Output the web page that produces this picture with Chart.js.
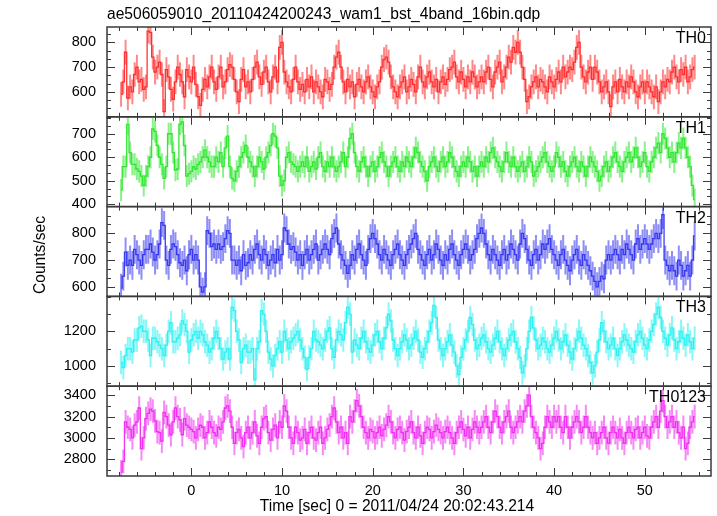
<!DOCTYPE html>
<html>
<head>
<meta charset="utf-8">
<script src="https://cdn.jsdelivr.net/npm/chart.js@4.4.1/dist/chart.umd.min.js"></script>
<style>
  html, body { margin: 0; padding: 0; background: #fff; }
  #wrap { width: 717px; height: 516px; }
</style>
</head>
<body>
<div id="wrap"><canvas id="lc"></canvas></div>
<script>
var fileTitle = "ae506059010_20110424200243_wam1_bst_4band_16bin.qdp";
var xTitle = "Time [sec] 0 = 2011/04/24 20:02:43.214";
var yTitle = "Counts/sec";

var bandNames = ["TH0", "TH1", "TH2", "TH3", "TH0123"];

// 0.25 s bins, first bin centre
var timeStart = -7.75;
var binWidth = 0.25;
var xTicks = [0, 10, 20, 30, 40, 50];

var th0Rate = [
  590, 640, 760, 575, 620, 600, 670, 700, 640, 650, 610, 620, 845, 840, 740, 680,
  700, 720, 670, 520, 690, 660, 610, 570, 640, 700, 670, 640, 580, 690, 660, 640,
  700, 630, 580, 545, 610, 650, 620, 660, 700, 640, 610, 660, 700, 620, 640, 690,
  710, 700, 650, 600, 560, 650, 690, 620, 640, 600, 650, 700, 720, 660, 630, 680,
  700, 640, 600, 660, 700, 640, 780, 800, 680, 640, 620, 600, 650, 700, 640, 610,
  630, 600, 650, 620, 660, 600, 640, 620, 600, 580, 650, 640, 610, 630, 700, 740,
  760, 700, 640, 600, 650, 620, 640, 580, 630, 650, 620, 600, 640, 660, 620, 600,
  580, 620, 640, 700, 730, 740, 720, 660, 620, 600, 580, 620, 640, 660, 600, 620,
  650, 630, 600, 660, 700, 640, 620, 660, 680, 640, 620, 650, 600, 640, 660, 630,
  650, 690, 700, 720, 660, 640, 680, 650, 620, 660, 640, 680, 660, 620, 640, 660,
  640, 680, 700, 650, 620, 680, 700, 720, 640, 660, 700, 740, 720, 780, 760, 800,
  760, 700, 650, 560, 580, 620, 640, 660, 620, 650, 640, 620, 600, 660, 640, 620,
  650, 680, 640, 700, 660, 680, 700, 690, 720, 780, 800, 700, 660, 640, 680, 700,
  650, 700, 680, 640, 600, 620, 640, 600, 540, 620, 640, 600, 650, 620, 600, 640,
  620, 660, 640, 600, 580, 620, 640, 600, 640, 620, 600, 580, 620, 560, 600, 640,
  620, 650, 640, 680, 700, 660, 640, 690, 670, 700, 640, 660, 690, 700
];

var th1Rate = [
  460, 560, 560, 740, 620, 570, 570, 550, 540, 520, 480, 520, 560, 600, 720, 710,
  650, 600, 570, 510, 560, 700, 700, 620, 545, 550, 740, 750, 650, 520, 530, 540,
  560, 550, 570, 580, 600, 630, 600, 580, 560, 560, 600, 580, 620, 560, 640, 690,
  560, 510, 500, 540, 560, 600, 620, 650, 600, 580, 560, 520, 560, 600, 580, 550,
  600, 620, 650, 700, 690, 640, 520, 480, 500, 600, 620, 580, 570, 560, 540, 560,
  580, 560, 600, 540, 560, 580, 550, 600, 620, 560, 540, 580, 560, 600, 560, 540,
  560, 580, 620, 560, 600, 680, 700, 620, 560, 540, 580, 600, 560, 520, 560, 580,
  540, 560, 600, 620, 580, 560, 520, 560, 580, 600, 560, 540, 580, 560, 600, 580,
  560, 600, 640, 620, 580, 560, 540, 500, 560, 580, 600, 560, 540, 580, 600, 560,
  580, 620, 600, 560, 540, 520, 560, 580, 560, 600, 580, 540, 560, 520, 560, 580,
  560, 600, 580, 620, 640, 600, 580, 560, 540, 580, 620, 580, 560, 600, 560, 540,
  560, 580, 540, 560, 600, 580, 520, 540, 560, 580, 600, 620, 580, 560, 540, 560,
  620, 600, 560, 580, 540, 520, 560, 580, 600, 560, 540, 580, 560, 520, 560, 600,
  580, 560, 540, 500, 520, 560, 580, 540, 560, 600, 620, 580, 560, 540, 580, 600,
  620, 580, 600, 640, 600, 560, 580, 620, 560, 540, 580, 600, 640, 660, 620, 700,
  680, 640, 600, 620, 580, 620, 660, 640, 680, 640, 600, 560, 480, 420
];

var th2Rate = [
  595, 640, 730, 680, 700, 680, 740, 720, 700, 680, 720, 740, 740, 760, 730, 700,
  720, 760, 840, 830, 700, 680, 740, 760, 750, 720, 690, 680, 700, 660, 720, 740,
  700, 720, 700, 600, 580, 600, 810, 800, 750, 760, 740, 760, 740, 750, 780, 810,
  800, 700, 700, 680, 700, 660, 720, 680, 690, 720, 700, 740, 760, 720, 700, 740,
  720, 680, 700, 720, 690, 740, 700, 720, 820, 810, 760, 740, 750, 730, 700, 720,
  680, 720, 740, 700, 720, 740, 760, 700, 720, 740, 760, 740, 720, 780, 800, 820,
  760, 720, 700, 680, 650, 680, 720, 700, 740, 760, 720, 700, 680, 740, 780, 800,
  780, 760, 720, 700, 740, 720, 700, 680, 720, 740, 760, 720, 700, 680, 720, 740,
  760, 780, 800, 740, 720, 700, 680, 720, 740, 700, 720, 760, 740, 700, 680, 720,
  700, 740, 760, 720, 700, 680, 720, 740, 760, 740, 700, 720, 740, 780, 800, 820,
  800, 760, 720, 700, 740, 720, 700, 680, 720, 740, 700, 720, 760, 740, 720, 700,
  760, 800, 780, 740, 700, 680, 720, 740, 700, 720, 760, 740, 760, 780, 740, 720,
  700, 680, 720, 740, 700, 680, 660, 700, 720, 740, 700, 680, 720, 700, 680, 660,
  640, 620, 600, 620, 640, 630, 700, 720, 700, 720, 740, 720, 700, 740, 720, 760,
  740, 720, 700, 760, 780, 740, 760, 780, 760, 740, 760, 780, 800, 780, 800, 870,
  700, 680, 660, 680, 660, 640, 700, 680, 640, 660, 680, 640, 700, 790
];

var th3Rate = [
  1020, 990, 1060, 1100, 1100, 1080, 1150, 1150, 1220, 1230, 1200, 1200, 1150, 1060, 1160, 1160,
  1140, 1120, 1100, 1060, 1120, 1200, 1250, 1140, 1140, 1160, 1180, 1260, 1240, 1200, 1080, 1150,
  1180, 1200, 1160, 1200, 1180, 1140, 1120, 1080, 1100, 1160, 1200, 1160, 1100, 1040, 1080, 1100,
  1040, 1340, 1320, 1200, 1150, 1020, 1100, 1120, 1080, 1080, 1100, 920, 1100, 1140, 1320, 1300,
  1200, 1080, 1040, 1000, 1060, 1100, 1140, 1080, 1200, 1150, 1100, 1140, 1160, 1180, 1200, 1150,
  1100, 1050, 980, 1050, 1100, 1200, 1150, 1140, 1120, 1100, 1150, 1200, 1220, 1100, 1050, 1150,
  1200, 1180, 1150, 1250, 1340, 1300, 1080, 1150, 1120, 1100, 1160, 1200, 1140, 1100, 1080, 1120,
  1180, 1200, 1140, 1100, 1160, 1220, 1300, 1260, 1150, 1100, 1060, 1100, 1140, 1180, 1150, 1100,
  1120, 1160, 1200, 1150, 1080, 1050, 1100, 1140, 1200, 1250, 1350, 1280, 1150, 1100, 1060, 1100,
  1140, 1180, 1120, 1080, 1000, 950, 1050, 1100, 1150, 1200, 1280, 1240, 1150, 1100, 1120, 1160,
  1180, 1140, 1100, 1080, 1120, 1160, 1200, 1140, 1100, 1060, 1100, 1150, 1180, 1200, 1140, 1100,
  1050, 960, 1000, 1100, 1200, 1280, 1220, 1150, 1100, 1120, 1160, 1140, 1100, 1080, 1120, 1160,
  1200, 1150, 1100, 1140, 1180, 1120, 1080, 1040, 1100, 1150, 1200, 1160, 1120, 1100, 1060, 1020,
  960, 1000, 1080, 1150, 1250, 1200, 1140, 1100, 1120, 1160, 1100, 1060, 1100, 1140, 1180, 1150,
  1120, 1100, 1080, 1140, 1180, 1200, 1160, 1120, 1100, 1150, 1200, 1240, 1300, 1340, 1280, 1200,
  1160, 1120, 1180, 1220, 1150, 1100, 1140, 1200, 1160, 1120, 1180, 1140, 1100, 1160
];

var th0123Rate = [
  2680, 2780, 3150, 3100, 3080, 3000, 3120, 3150, 3280, 2900, 3000, 3180, 3230, 3270, 3250, 3160,
  3060, 3050, 2970, 3240, 3200, 3120, 3030, 3150, 3280, 3200, 3170, 3030, 3180, 3120, 3100, 3080,
  3060, 3000, 3080, 3120, 3100, 3000, 3050, 3150, 3100, 3050, 3020, 3100, 3080, 3150, 3280, 3300,
  3250, 3100, 2950, 3050, 3080, 3000, 2920, 3050, 3100, 3000, 3050, 3150, 3020, 2950, 3100, 3180,
  3200, 3050, 2980, 3080, 3120, 3000, 3150, 3100, 3300, 3250, 3100, 3000, 2950, 3100, 3050, 2980,
  3000, 3080, 2950, 3050, 3100, 3000, 2980, 3050, 3100, 2950, 3000, 3080, 3120, 3200, 3280, 3150,
  3050, 3100, 3000, 3050, 2950, 3200, 3150, 3250, 3350, 3300, 3200, 3100, 3050, 3000, 3080, 3060,
  3000, 3050, 3100, 3020, 3080, 3120, 3200, 3150, 3050, 3000, 3080, 3100, 3050, 2980, 3060, 3100,
  3150, 3050, 3000, 3100, 3020, 2950, 3050, 3100, 3080, 3000, 3060, 3120, 3080, 3050, 3000, 3060,
  3100, 3050, 3000, 2950, 3050, 3100, 3150, 3080, 3020, 3100, 3000, 3080, 3150, 3100, 3050, 3100,
  3150, 3200, 3100, 3050, 3150, 3250, 3200, 3100, 3050, 3150, 3200, 3250, 3100, 3050, 3100, 3150,
  3200, 3150, 3250, 3300, 3400, 3200, 3100, 3050, 3000, 2900, 2950, 3100, 3200, 3150, 3100, 3200,
  3150, 3200, 3100, 3050, 3200, 3100, 3000, 3100, 3150, 3200, 3150, 3050, 3100, 3200, 3100, 3050,
  3000, 3050, 2950, 3000, 3050, 3100, 3000, 2950, 3050, 3100, 3050, 3000, 3080, 3000, 2950, 3050,
  3100, 3050, 3000, 3080, 3100, 3000, 3050, 3100, 3020, 3000, 3100, 3150, 3200, 3100, 3250, 3350,
  3200, 3100, 3150, 3200, 3100, 3150, 3050, 3000, 3100, 2900, 2950, 3100, 3150, 3200
];

// typical 1-sigma error per band (counts/sec)
var rateErr = [50, 47, 54, 68, 111];

var th0Ticks = [600, 700, 800];
var th1Ticks = [400, 500, 600, 700];
var th2Ticks = [600, 700, 800];
var th3Ticks = [1000, 1200];
var th0123Ticks = [2800, 3000, 3200, 3400];

var rates = [th0Rate, th1Rate, th2Rate, th3Rate, th0123Rate];
var tickSets = [th0Ticks, th1Ticks, th2Ticks, th3Ticks, th0123Ticks];

// look of each panel
var panelStyle = [
  { rgb: "255,40,40", min: 499, max: 862, minor: 100 / 3 },
  { rgb: "40,230,40", min: 390, max: 772, minor: 100 / 3 },
  { rgb: "50,50,240", min: 564, max: 900, minor: 100 / 3 },
  { rgb: "40,240,240", min: 883, max: 1402, minor: 100 },
  { rgb: "240,40,240", min: 2644, max: 3484, minor: 100 }
];

var fontFamily = "'Liberation Sans', Arial, sans-serif";
var frameColor = "#3a3a3a";

function points(vals) {
  return vals.map(function (v, i) {
    return { x: timeStart + i * binWidth, y: v };
  });
}

var datasets = rates.map(function (vals, i) {
  return {
    label: bandNames[i],
    data: points(vals),
    yAxisID: "y" + i,
    errorBar: rateErr[i],
    borderColor: "rgba(" + panelStyle[i].rgb + ",0.95)",
    borderWidth: 1.3,
    stepped: "middle",
    pointRadius: 0,
    fill: false
  };
});

var scales = {
  x: {
    type: "linear",
    position: "bottom",
    min: -9.3,
    max: 57.3,
    grid: { display: false, drawTicks: false },
    border: { display: false },
    afterBuildTicks: function (s) {
      s.ticks = xTicks.map(function (v) { return { value: v }; });
    },
    afterFit: function (s) { s.height = 40; },
    ticks: {
      color: "#000",
      padding: 6,
      maxRotation: 0,
      autoSkip: false,
      font: { family: fontFamily, size: 14.5 },
      callback: function (v) { return String(v); }
    }
  }
};

panelStyle.forEach(function (p, i) {
  scales["y" + i] = {
    type: "linear",
    position: "left",
    stack: "panels",
    stackWeight: 1,
    weight: 5 - i,
    min: p.min,
    max: p.max,
    grid: { display: false, drawTicks: false },
    border: { display: false },
    afterBuildTicks: function (s) {
      s.ticks = tickSets[i].map(function (v) { return { value: v }; });
    },
    afterFit: function (s) { s.width = 107; },
    ticks: {
      color: "#000",
      padding: 11,
      autoSkip: false,
      font: { family: fontFamily, size: 14.5 },
      callback: function (v) { return String(v); }
    }
  };
});

function isMajor(v, list) {
  return list.some(function (m) { return Math.abs(m - v) < 1e-6; });
}

// QDP style: error bars, framed panels, inward ticks, captions
var qdpFrame = {
  id: "qdpFrame",
  beforeDatasetsDraw: function (chart) {
    var ctx = chart.ctx;
    var area = chart.chartArea;
    var xs = chart.scales.x;
    chart.data.datasets.forEach(function (ds, i) {
      var ys = chart.scales["y" + i];
      ctx.save();
      ctx.beginPath();
      ctx.rect(area.left, ys.top, area.right - area.left, ys.bottom - ys.top);
      ctx.clip();
      ctx.strokeStyle = "rgba(" + panelStyle[i].rgb + ",0.55)";
      ctx.lineWidth = 2;
      ctx.beginPath();
      ds.data.forEach(function (pt) {
        var px = xs.getPixelForValue(pt.x);
        ctx.moveTo(px, ys.getPixelForValue(pt.y - ds.errorBar));
        ctx.lineTo(px, ys.getPixelForValue(pt.y + ds.errorBar));
      });
      ctx.stroke();
      ctx.restore();
    });
  },
  afterDraw: function (chart) {
    var ctx = chart.ctx;
    var area = chart.chartArea;
    var xs = chart.scales.x;
    ctx.save();
    ctx.strokeStyle = frameColor;

    panelStyle.forEach(function (p, i) {
      var ys = chart.scales["y" + i];
      var top = ys.top, bottom = ys.bottom;

      ctx.lineWidth = 1.5;
      ctx.strokeRect(area.left, top, area.right - area.left, bottom - top);

      // y ticks, both sides
      ctx.lineWidth = 1;
      ctx.beginPath();
      var k0 = Math.ceil(p.min / p.minor), k1 = Math.floor(p.max / p.minor);
      for (var k = k0; k <= k1; k++) {
        var v = k * p.minor;
        var len = isMajor(v, tickSets[i]) ? 8 : 4;
        var py = Math.round(ys.getPixelForValue(v)) + 0.5;
        ctx.moveTo(area.left, py); ctx.lineTo(area.left + len, py);
        ctx.moveTo(area.right, py); ctx.lineTo(area.right - len, py);
      }
      // x ticks, top and bottom of every panel
      for (var t = -8; t <= 56; t += 2) {
        var tl = (t % 10 === 0) ? 8 : 4;
        var px = Math.round(xs.getPixelForValue(t)) + 0.5;
        ctx.moveTo(px, top); ctx.lineTo(px, top + tl);
        ctx.moveTo(px, bottom); ctx.lineTo(px, bottom - tl);
      }
      ctx.stroke();

      ctx.fillStyle = "#000";
      ctx.font = "16px " + fontFamily;
      ctx.textAlign = "right";
      ctx.textBaseline = "alphabetic";
      ctx.fillText(bandNames[i], area.right - 5, top + 16);
    });

    ctx.fillStyle = "#000";
    ctx.font = "15.6px " + fontFamily;
    ctx.textAlign = "left";
    ctx.textBaseline = "middle";
    ctx.fillText(fileTitle, area.left, 15);

    ctx.textAlign = "center";
    ctx.fillText(xTitle, 397, 507);

    ctx.translate(41, 255);
    ctx.rotate(-Math.PI / 2);
    ctx.fillText(yTitle, 0, 0);
    ctx.restore();
  }
};

var ctx = document.getElementById("lc").getContext("2d");
var lcChart = new Chart(ctx, {
  type: "line",
  data: { datasets: datasets },
  options: {
    responsive: true,
    maintainAspectRatio: false,
    animation: false,
    layout: { padding: { left: 0, right: 6, top: 27, bottom: 0 } },
    plugins: {
      legend: { display: false },
      tooltip: { enabled: false },
      title: { display: false }
    },
    scales: scales
  },
  plugins: [qdpFrame]
});
</script>
</body>
</html>
